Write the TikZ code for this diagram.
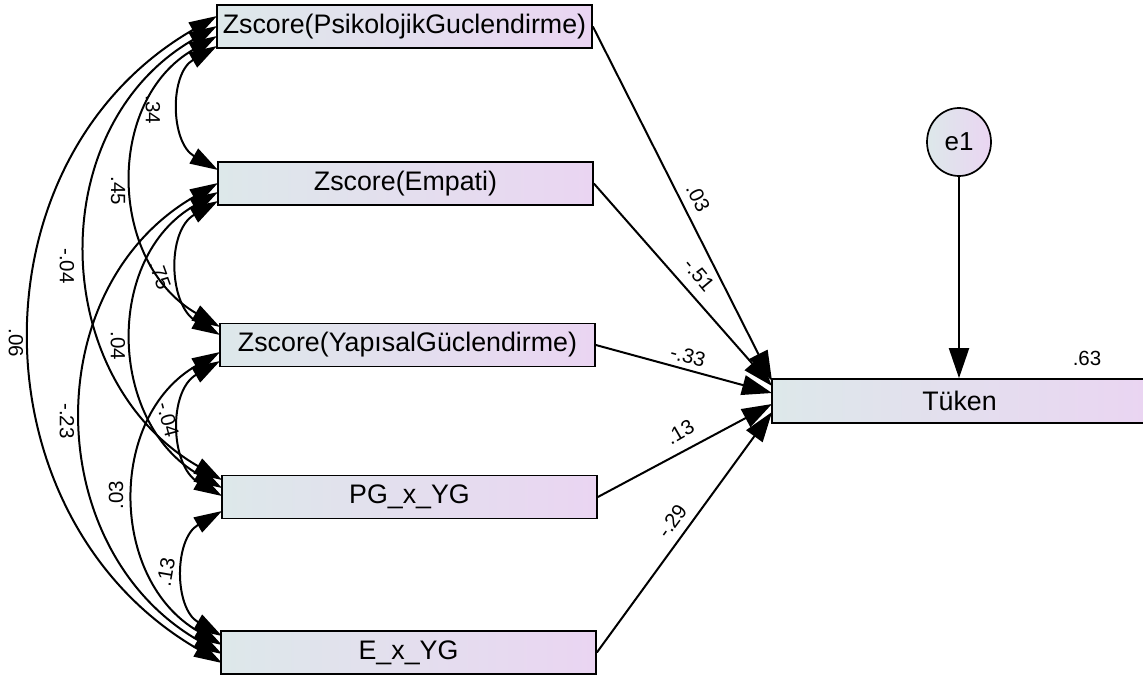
\documentclass[tikz,border=0pt]{standalone}
\usepackage{fontspec}
\setmainfont{Liberation Sans}
\usetikzlibrary{arrows.meta,shapes.geometric,calc}
\definecolor{shadeL}{RGB}{221,232,234}
\definecolor{shadeR}{RGB}{234,213,242}
\begin{document}
\begin{tikzpicture}[x=1pt,y=-1pt,
  varbox/.style={draw=black, line width=1.7pt, left color=shadeL, right color=shadeR,
    minimum width=375pt, minimum height=43pt, inner sep=0pt,
    font=\fontsize{26.8}{30}\selectfont},
  errnode/.style={ellipse, draw=black, line width=1.7pt, left color=shadeL, right color=shadeR,
    minimum width=64pt, minimum height=68pt, inner sep=0pt,
    font=\fontsize{26}{30}\selectfont},
  lbl/.style={font=\fontsize{20.5}{24}\selectfont, inner sep=0pt},
  cov/.style={line width=2pt, {Triangle[length=28pt,width=17pt]}-{Triangle[length=28pt,width=17pt]}},
  reg/.style={line width=2pt, -{Triangle[length=30pt,width=20pt]}}]
\useasboundingbox (0,0) rectangle (1143,678);
\clip (0,0) rectangle (1143,678);

% observed variables
\node[varbox] (b1) at (404.5,26.5) {Zscore(PsikolojikGuclendirme)};
\node[varbox] (b2) at (405.5,183.5) {Zscore(Empati)};
\node[varbox] (b3) at (407.5,345) {Zscore(YapısalGüclendirme)};
\node[varbox] (b4) at (409.5,497) {PG\_x\_YG};
\node[varbox] (b5) at (408.5,652.5) {E\_x\_YG};
\node[varbox, minimum height=44pt] (tk) at (959.5,401) {Tüken};
\node[errnode] (e1) at (959,142) {e1};

% covariance end points on the left edges
\coordinate (a15) at (217,16);  \coordinate (a14) at (217,26);
\coordinate (a13) at (217,36);  \coordinate (a12) at (217,46);
\coordinate (a21) at (218,170); \coordinate (a25) at (218,183);
\coordinate (a24) at (218,192); \coordinate (a23) at (218,201);
\coordinate (a31) at (220,327); \coordinate (a32) at (220,335);
\coordinate (a35) at (220,352); \coordinate (a34) at (220,361);
\coordinate (a41) at (222,480); \coordinate (a42) at (222,488);
\coordinate (a43) at (222,496); \coordinate (a45) at (222,511);
\coordinate (a54) at (222,636); \coordinate (a53) at (222,645);
\coordinate (a52) at (222,654); \coordinate (a51) at (222,663);

% covariances (120 degree arcs)
\draw[cov] (a12) .. controls +(-47.7,27.6) and +(-47.7,-27.6) .. (a21);
\draw[cov] (a13) .. controls +(-112.0,64.7) and +(-112.0,-64.7) .. (a31);
\draw[cov] (a14) .. controls +(-174.7,100.9) and +(-174.7,-100.9) .. (a41);
\draw[cov] (a15) .. controls +(-249.0,143.8) and +(-249.0,-143.8) .. (a51);
\draw[cov] (a23) .. controls +(-51.6,29.8) and +(-51.6,-29.8) .. (a32);
\draw[cov] (a24) .. controls +(-113.9,65.8) and +(-113.9,-65.8) .. (a42);
\draw[cov] (a25) .. controls +(-181.3,104.7) and +(-181.3,-104.7) .. (a52);
\draw[cov] (a34) .. controls +(-52.0,30.0) and +(-52.0,-30.0) .. (a43);
\draw[cov] (a35) .. controls +(-112.8,65.1) and +(-112.8,-65.1) .. (a53);
\draw[cov] (a45) .. controls +(-48.1,27.8) and +(-48.1,-27.8) .. (a54);

% covariance estimates
\node[lbl, rotate=-90] (k12) at (153,110) {.34};
\node[lbl, rotate=-90] (k13) at (118,191) {.45};
\node[lbl, rotate=-90] (k14) at (67,266) {-.04};
\node[lbl, rotate=-90] (k15) at (16,343) {.06};
\node[lbl, rotate=-70] (k23) at (160,275) {.75};
\node[lbl, rotate=-90] (k24) at (118,346) {.04};
\node[lbl, rotate=-90] (k25) at (67,421) {-.23};
\node[lbl, rotate=-75] (k34) at (168,420) {-.04};
\node[lbl, rotate=90]  (k35) at (116,495) {.03};
\node[lbl, rotate=80]  (k45) at (166,572) {.13};

% regression paths into Tüken
\coordinate (t1) at (772,381); \coordinate (t2) at (772,386);
\coordinate (t3) at (772,393); \coordinate (t4) at (772,404);
\coordinate (t5) at (772,412);
\draw[reg] (b1.east) -- (t1);
\draw[reg] (b2.east) -- (t2);
\draw[reg] (b3.east) -- (t3);
\draw[reg] (b4.east) -- (t4);
\draw[reg] (b5.east) -- (t5);
\draw[reg] (e1.south) -- (e1.south |- tk.north);

% path coefficients
\node[lbl, rotate=-63] (w1) at (698,198) {.03};
\node[lbl, rotate=-50] (w2) at (699,275) {-.51};
\node[lbl, rotate=-15] (w3) at (688,356) {-.33};
\node[lbl, rotate=30]  (w4) at (680,432) {.13};
\node[lbl, rotate=54]  (w5) at (672,521) {-.29};
\node[lbl] (r2) at (1087,358) {.63};
\end{tikzpicture}
\end{document}
